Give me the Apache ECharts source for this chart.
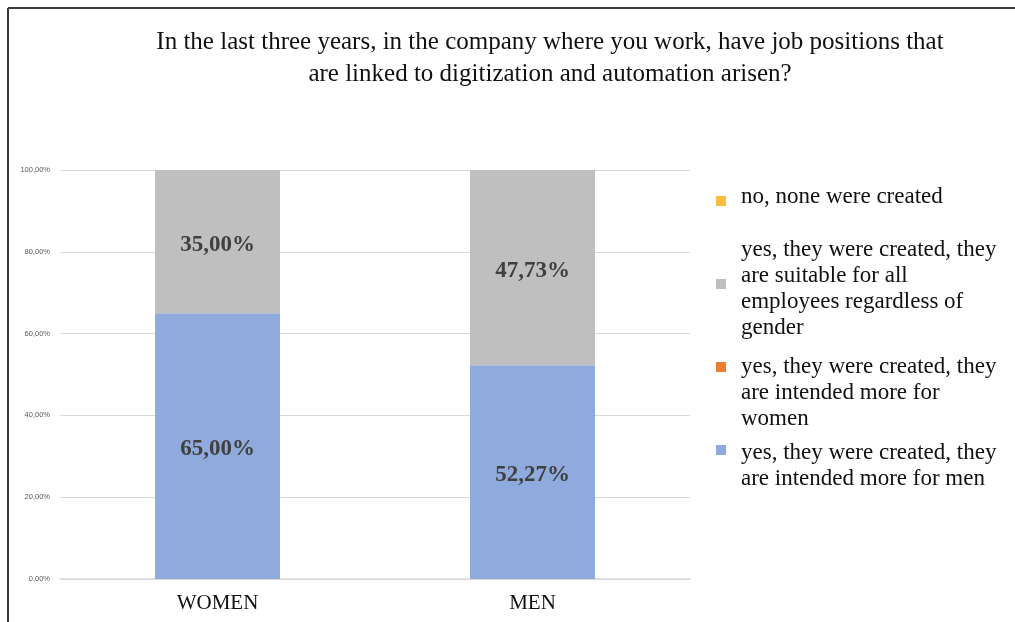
<!DOCTYPE html>
<html>
<head>
<meta charset="utf-8">
<script src="https://cdn.jsdelivr.net/npm/echarts@6/dist/echarts.min.js"></script>
<style>html,body{margin:0;padding:0;background:#fff}#c{width:1015px;height:622px}</style>
</head>
<body>
<div id="c"></div>
<script>
const titleText = 'In the last three years, in the company where you work, have job positions that\nare linked to digitization and automation arisen?';
const categories = ['WOMEN', 'MEN'];
const seriesNames = [
  'yes, they were created, they are intended more for men',
  'yes, they were created, they are intended more for women',
  'yes, they were created, they are suitable for all employees regardless of gender',
  'no, none were created'
];
const legendLines = [
  'yes, they were created, they\nare intended more for men',
  'yes, they were created, they\nare intended more for\nwomen',
  'yes, they were created, they\nare suitable for all\nemployees regardless of\ngender',
  'no, none were created'
];
const menIntended = [65.00, 52.27];
const womenIntended = [0, 0];
const allSuitable = [35.00, 47.73];
const noneCreated = [0, 0];
const yTicks = [0, 20, 40, 60, 80, 100];
const colors = ['#8FAADC', '#ED7D31', '#BFBFBF', '#FBBD3F'];

const serif = '"Liberation Serif", "DejaVu Serif", serif';
const fmt = v => v.toFixed(2).replace('.', ',') + '%';
const values = [menIntended, womenIntended, allSuitable, noneCreated];

const chart = echarts.init(document.getElementById('c'), null, {renderer: 'canvas'});

const series = seriesNames.map((n, i) => ({
  name: n,
  type: 'bar',
  stack: 'total',
  barWidth: 125,
  data: values[i],
  itemStyle: {color: colors[i]},
  label: {
    show: true,
    position: 'inside',
    offset: [0, 3],
    fontFamily: serif,
    fontWeight: 'bold',
    fontSize: 23,
    color: '#404040',
    formatter: p => p.value > 0 ? fmt(p.value) : ''
  }
}));

// legend text blocks (first-line tops)
const legendTops = [440, 354, 237, 184];
const textGraphics = legendLines.map((t, i) => ({
  type: 'text',
  left: 741,
  top: legendTops[i],
  style: {
    text: t,
    font: '23px ' + serif,
    lineHeight: 26,
    fill: '#111'
  }
}));

chart.setOption({
  animation: false,
  backgroundColor: '#fff',
  title: {
    text: titleText,
    left: 545,
    top: 21,
    textAlign: 'center',
    textStyle: {fontFamily: serif, fontWeight: 'normal', fontSize: 25, lineHeight: 32, color: '#111'}
  },
  grid: {left: 60, right: 325, top: 170, bottom: 43, containLabel: false},
  legend: {
    orient: 'vertical',
    left: 711,
    top: 191,
    itemWidth: 10,
    itemHeight: 10,
    itemGap: 73,
    icon: 'rect',
    data: seriesNames.slice().reverse(),
    formatter: () => '',
    textStyle: {fontSize: 8, lineHeight: 10}
  },
  xAxis: {
    type: 'category',
    data: categories,
    axisLine: {lineStyle: {color: '#d9d9d9', width: 1.5}},
    axisTick: {show: false},
    axisLabel: {fontFamily: serif, fontSize: 21, color: '#111', margin: 14}
  },
  yAxis: {
    type: 'value',
    min: 0,
    max: 100,
    interval: 20,
    axisLine: {show: false},
    axisTick: {show: false},
    splitLine: {lineStyle: {color: '#d9d9d9', width: 1}},
    axisLabel: {
      fontFamily: '"Liberation Sans", sans-serif',
      fontSize: 7.5,
      color: '#595959',
      margin: 10,
      formatter: v => yTicks.includes(v) ? fmt(v) : ''
    }
  },
  graphic: [
    {type: 'line', shape: {x1: 8, y1: 8, x2: 1015, y2: 8}, style: {stroke: '#3a3a3a', lineWidth: 2}},
    {type: 'line', shape: {x1: 8, y1: 8, x2: 8, y2: 622}, style: {stroke: '#3a3a3a', lineWidth: 2}}
  ].concat(textGraphics),
  series: series
});
</script>
</body>
</html>
